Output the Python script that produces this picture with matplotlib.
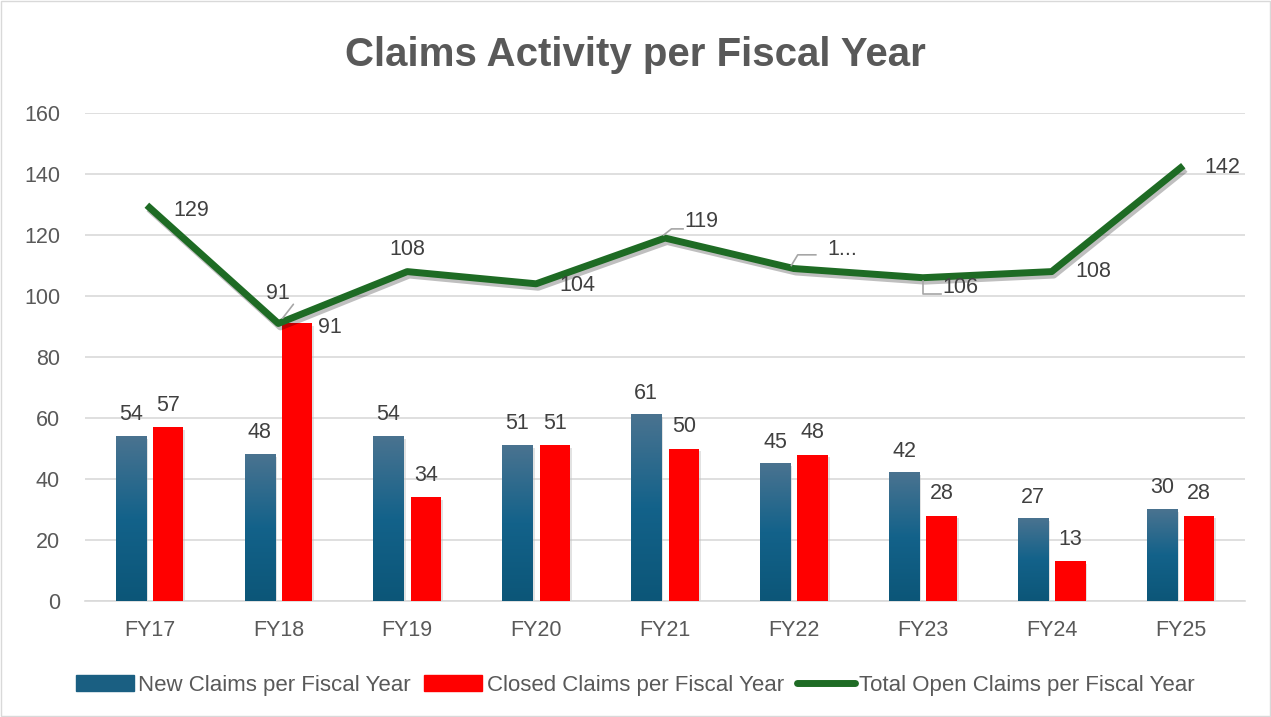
import matplotlib
matplotlib.use("Agg")
import matplotlib.pyplot as plt
import numpy as np
from matplotlib.patches import Rectangle
from matplotlib.lines import Line2D
import matplotlib.patheffects as pe
from matplotlib.colors import LinearSegmentedColormap

categories = ["FY17", "FY18", "FY19", "FY20", "FY21", "FY22", "FY23", "FY24", "FY25"]
new_claims = [54, 48, 54, 51, 61, 45, 42, 27, 30]
closed_claims = [57, 91, 34, 51, 50, 48, 28, 13, 28]
open_claims = [129, 91, 108, 104, 119, 109, 106, 108, 142]
open_labels = ["129", "91", "108", "104", "119", "1...", "106", "108", "142"]

plt.rcParams['font.family'] = ['Liberation Sans', 'DejaVu Sans']
txt = "#595959"

fig = plt.figure(figsize=(12.71, 7.17), dpi=100)
ax = fig.add_axes([85/1271, 1 - 601/717, 1160/1271, 488/717])
fig.patches.append(Rectangle((0.001, 0.001), 0.998, 0.998, transform=fig.transFigure,
                             fill=False, edgecolor="#d9d9d9", lw=1))

x = np.arange(len(categories))
w = 0.235
off = 0.145
cmap = LinearSegmentedColormap.from_list("g", ["#0c5678", "#13628a", "#4a7390"])
grad = np.linspace(0, 1, 256).reshape(-1, 1)

bars_new = ax.bar(x - off, new_claims, w, color="none", zorder=3)
for b in bars_new:
    x0, h = b.get_x(), b.get_height()
    ax.add_patch(Rectangle((x0 + 0.015, -0.8), w, h, color="#bfbfbf", alpha=0.45, zorder=2, lw=0))
    ax.imshow(grad, extent=[x0, x0 + w, 0, h], origin="lower", cmap=cmap, aspect="auto", zorder=3)
bars_closed = ax.bar(x + off, closed_claims, w, color="#ff0000", zorder=3)
for b in bars_closed:
    ax.add_patch(Rectangle((b.get_x() + 0.015, -0.8), w, b.get_height(), color="#bfbfbf", alpha=0.45, zorder=2, lw=0))

ax.plot(x, open_claims, color="#1e6b24", lw=5, zorder=5, solid_joinstyle="round",
        path_effects=[pe.SimpleLineShadow(offset=(1.5, -2.5), alpha=0.25, shadow_color="black"), pe.Normal()])

lab_kw = dict(fontsize=15.5, color="#404040", zorder=6)
for i in range(len(x)):
    ax.annotate(str(new_claims[i]), (x[i] - off, new_claims[i]), xytext=(0, 8),
                textcoords="offset points", ha="center", va="bottom", **lab_kw)
    if i == 1:
        ax.annotate(str(closed_claims[i]), (x[i] + off, closed_claims[i]), xytext=(15, -3),
                    textcoords="offset points", ha="left", va="center", **lab_kw)
    else:
        ax.annotate(str(closed_claims[i]), (x[i] + off, closed_claims[i]), xytext=(0, 8),
                    textcoords="offset points", ha="center", va="bottom", **lab_kw)

# line labels offsets (points)
line_offsets = [(17, -2), (0, 14), (0, 8), (17, -1), (14, 4), (24, 6), (14, -7), (17, 0), (17, 0)]
line_va = ["center", "bottom", "bottom", "center", "bottom", "bottom", "center", "center", "center"]
for i in range(len(x)):
    dx, dy = line_offsets[i]
    ax.annotate(open_labels[i], (x[i], open_claims[i]), xytext=(dx, dy), textcoords="offset points",
                ha="left" if i not in (1, 2) else "center", va=line_va[i], **lab_kw)

# leader lines
ax.annotate("", (x[1] + 0.02, open_claims[1] + 1), xytext=(x[1] + 0.13, open_claims[1] + 7),
            arrowprops=dict(arrowstyle="-", color="#a6a6a6", lw=1.2), zorder=6)
ax.plot([x[4] - 0.01, x[4] + 0.05, x[4] + 0.14], [open_claims[4] + 1, open_claims[4] + 3, open_claims[4] + 3],
        color="#a6a6a6", lw=1.2, zorder=6)
ax.plot([x[5] - 0.02, x[5] + 0.03, x[5] + 0.17], [open_claims[5] + 1, open_claims[5] + 4.5, open_claims[5] + 4.5],
        color="#a6a6a6", lw=1.2, zorder=6)
ax.plot([x[6], x[6], x[6] + 0.14], [open_claims[6] - 1, open_claims[6] - 5.5, open_claims[6] - 5.5],
        color="#a6a6a6", lw=1.2, zorder=6)

ax.set_xlim(-0.5, len(x) - 0.5)
ax.set_ylim(0, 160)
ax.set_yticks(range(0, 161, 20))
ax.set_xticks(x)
ax.set_xticklabels(categories)
ax.yaxis.grid(True, color="#d9d9d9", lw=1.2, zorder=0)
ax.set_axisbelow(True)
for s in ["top", "right", "left"]:
    ax.spines[s].set_visible(False)
ax.spines["bottom"].set_color("#d9d9d9")
ax.spines["bottom"].set_linewidth(1.2)
ax.tick_params(axis="both", length=0, labelsize=15.5, colors=txt)
ax.tick_params(axis="x", pad=14)
ax.tick_params(axis="y", pad=18)

fig.text(0.5, 1 - 55/717, "Claims Activity per Fiscal Year", ha="center", va="center",
         fontsize=29, fontweight="bold", color=txt)

handles = [Rectangle((0, 0), 1, 1, color="#1a5f82"),
           Rectangle((0, 0), 1, 1, color="#ff0000"),
           Line2D([0], [0], color="#1e6b24", lw=5, solid_capstyle="round")]
labels = ["New Claims per Fiscal Year", "Closed Claims per Fiscal Year", "Total Open Claims per Fiscal Year"]
fig.legend(handles, labels, loc="center", bbox_to_anchor=(0.5, 1 - 685/717), ncol=3, frameon=False,
           fontsize=16, labelcolor=txt, handlelength=2.6, handletextpad=0.2, columnspacing=0.6)

fig.savefig("out.png", dpi=100)
